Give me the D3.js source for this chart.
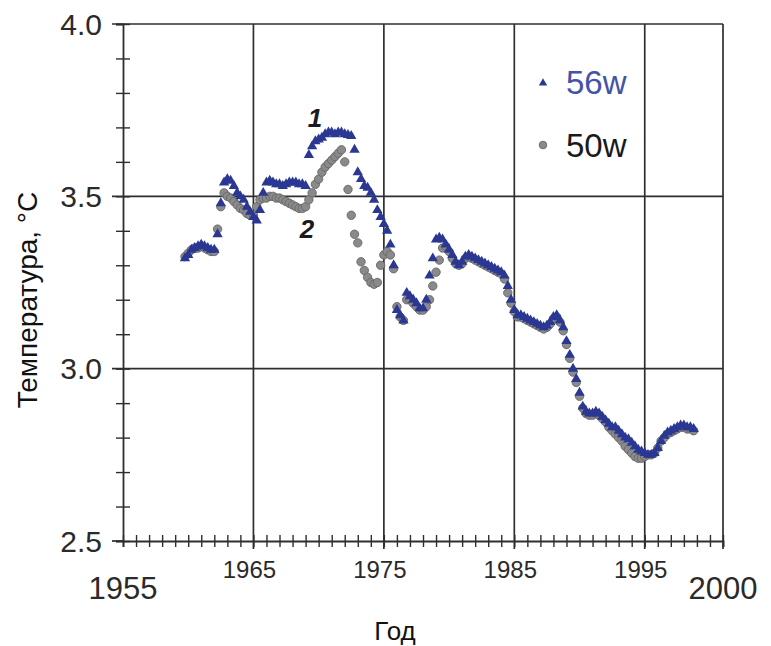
<!DOCTYPE html>
<html>
<head>
<meta charset="utf-8">
<script src="https://cdn.jsdelivr.net/npm/d3@7"></script>
<style>
  body { margin: 0; background: #fff; }
  text { font-family: "Liberation Sans", Arial, sans-serif; }
</style>
</head>
<body>
<svg id="chart" width="771" height="646"></svg>
<script>
// quarterly samples, first one at 1959.75
const startYear = 1959.75;

const t56 = [
  3.32,
  3.33, 3.345, 3.35, 3.355,
  3.36, 3.355, 3.35, 3.345,
  3.345, 3.39, 3.48, 3.54,
  3.55, 3.545, 3.53, 3.51,
  3.50, 3.49, 3.47, 3.455,
  3.44, 3.43, 3.46, 3.51,
  3.54, 3.545, 3.54, 3.535,
  3.535, 3.53, 3.535, 3.54,
  3.54, 3.54, 3.535, 3.535,
  3.53, 3.62, 3.645, 3.66,
  3.665, 3.67, 3.68, 3.685,
  3.685, 3.68, 3.685, 3.685,
  3.68, 3.678, 3.675, 3.635,
  3.57, 3.55, 3.53, 3.525,
  3.51, 3.49, 3.46, 3.44,
  3.42, 3.40, 3.36, 3.30,
  3.17, 3.155, 3.14, 3.22,
  3.21, 3.20, 3.19, 3.175,
  3.175, 3.20, 3.27, 3.32,
  3.375, 3.38, 3.375, 3.36,
  3.345, 3.33, 3.31, 3.30,
  3.31, 3.325, 3.33, 3.325,
  3.32, 3.315, 3.31, 3.305,
  3.30, 3.295, 3.29, 3.285,
  3.28, 3.27, 3.24, 3.20,
  3.17, 3.155, 3.155, 3.15,
  3.145, 3.14, 3.135, 3.13,
  3.125, 3.12, 3.125, 3.135,
  3.15, 3.155, 3.14, 3.12,
  3.08, 3.04, 3.00, 2.97,
  2.93, 2.89, 2.875, 2.87,
  2.87, 2.875, 2.87, 2.86,
  2.85, 2.84, 2.83, 2.83,
  2.82, 2.81, 2.80, 2.795,
  2.785, 2.775, 2.765, 2.76,
  2.755, 2.75, 2.75, 2.755,
  2.77, 2.79, 2.805, 2.815,
  2.82, 2.825, 2.83, 2.835,
  2.835, 2.83, 2.83, 2.825
];

const t50 = [
  3.325,
  3.335, 3.345, 3.35, 3.35,
  3.355, 3.35, 3.345, 3.34,
  3.34, 3.405, 3.47, 3.51,
  3.50, 3.495, 3.485, 3.475,
  3.465, 3.46, 3.45, 3.445,
  3.445, 3.47, 3.49, 3.495,
  3.495, 3.50, 3.50, 3.495,
  3.495, 3.49, 3.485, 3.48,
  3.475, 3.47, 3.465, 3.465,
  3.47, 3.49, 3.51, 3.535,
  3.55, 3.57, 3.585, 3.595,
  3.605, 3.615, 3.625, 3.635,
  3.60, 3.52, 3.445, 3.39,
  3.365, 3.31, 3.285, 3.265,
  3.25, 3.245, 3.25, 3.30,
  3.33, 3.34, 3.33, 3.29,
  3.18, 3.15, 3.14, 3.20,
  3.20, 3.19, 3.18, 3.17,
  3.17, 3.18, 3.20, 3.24,
  3.28, 3.315, 3.35, 3.355,
  3.34, 3.32, 3.305, 3.30,
  3.305, 3.32, 3.325, 3.32,
  3.315, 3.31, 3.305, 3.30,
  3.295, 3.29, 3.285, 3.28,
  3.275, 3.26, 3.22, 3.19,
  3.165, 3.15, 3.15, 3.145,
  3.14, 3.135, 3.13, 3.125,
  3.12, 3.115, 3.12, 3.13,
  3.145, 3.15, 3.135, 3.11,
  3.07, 3.03, 2.99, 2.96,
  2.92, 2.885, 2.87, 2.865,
  2.865, 2.87, 2.865, 2.855,
  2.845, 2.83, 2.82, 2.81,
  2.80, 2.79, 2.775, 2.765,
  2.755, 2.745, 2.74, 2.74,
  2.745, 2.75, 2.75, 2.755,
  2.77, 2.79, 2.80, 2.81,
  2.815, 2.82, 2.825, 2.83,
  2.83, 2.825, 2.825, 2.82
];

const yMajor = [2.5, 3.0, 3.5, 4.0];
const yMinor = d3.range(25, 41).map(d => d / 10);
const xGrid = [1965, 1975, 1985, 1995];
const xMinor = d3.range(1955, 2002);
const xEndLabels = [["1955", 1955], ["2000", 2001]];
const seriesNames = ["56w", "50w"];

const svg = d3.select("#chart");

const x = d3.scaleLinear().domain([1955, 2001]).range([123, 723]);
const y = d3.scaleLinear().domain([2.5, 4.0]).range([541, 24]);

const toPoints = arr => arr.map((v, i) => ({ year: startYear + i / 4, t: v }));
const pts56 = toPoints(t56);
const pts50 = toPoints(t50);

// grid
const grid = svg.append("g").attr("stroke", "#2e2e2e").attr("stroke-width", 1.7);
grid.selectAll("line.h")
  .data(yMajor.slice(1))
  .join("line")
  .attr("x1", x.range()[0] - 11).attr("x2", x.range()[1])
  .attr("y1", d => y(d)).attr("y2", d => y(d));
grid.selectAll("line.v")
  .data(xGrid.concat([2001]))
  .join("line")
  .attr("x1", d => x(d)).attr("x2", d => x(d))
  .attr("y1", y.range()[1]).attr("y2", y.range()[0] + 8);

// minor ticks crossing the axes
svg.append("g").attr("transform", `translate(${x.range()[0]},0)`)
  .call(d3.axisLeft(y).tickValues(yMinor).tickSize(7).tickFormat(""));
svg.append("g").attr("transform", `translate(${x.range()[0]},0)`)
  .call(d3.axisRight(y).tickValues(yMinor).tickSize(7).tickFormat(""))
  .select(".domain").remove();
svg.append("line")
  .attr("x1", x.range()[0] - 11).attr("x2", x.range()[0])
  .attr("y1", y(2.5)).attr("y2", y(2.5))
  .attr("stroke", "#2e2e2e").attr("stroke-width", 1.7);

svg.append("g").attr("transform", `translate(0,${y.range()[0]})`)
  .call(d3.axisBottom(x).tickValues(xMinor).tickSize(6).tickFormat(""));
svg.append("g").attr("transform", `translate(0,${y.range()[0]})`)
  .call(d3.axisTop(x).tickValues(xMinor).tickSize(6).tickFormat(""))
  .select(".domain").remove();

svg.selectAll(".domain").attr("stroke", "#2e2e2e").attr("stroke-width", 1.8);
svg.selectAll(".tick line").attr("stroke", "#2e2e2e").attr("stroke-width", 1.4);

// tick labels
svg.append("g").selectAll("text")
  .data(yMajor)
  .join("text")
  .attr("x", 102)
  .attr("y", d => y(d))
  .attr("dy", "0.36em")
  .attr("text-anchor", "end")
  .attr("font-size", 30)
  .attr("fill", "#2a2a2a")
  .text(d => d.toFixed(1));

svg.append("g").selectAll("text")
  .data(xGrid)
  .join("text")
  .attr("x", d => x(d) - 4)
  .attr("y", 578)
  .attr("text-anchor", "middle")
  .attr("font-size", 24)
  .attr("fill", "#2a2a2a")
  .text(d => d);

svg.append("g").selectAll("text")
  .data(xEndLabels)
  .join("text")
  .attr("x", d => x(d[1]))
  .attr("y", 599)
  .attr("text-anchor", "middle")
  .attr("font-size", 31)
  .attr("fill", "#2a2a2a")
  .text(d => d[0]);

svg.append("text")
  .attr("x", 395).attr("y", 640)
  .attr("text-anchor", "middle")
  .attr("font-size", 26)
  .attr("fill", "#111")
  .text("Год");

svg.append("text")
  .attr("transform", "translate(37,300) rotate(-90)")
  .attr("text-anchor", "middle")
  .attr("font-size", 28)
  .attr("fill", "#111")
  .text("Температура, °C");

// series
const blue = "#2a3793";
const tri = d3.symbol().type(d3.symbolTriangle).size(46);

svg.append("g").selectAll("circle")
  .data(pts50)
  .join("circle")
  .attr("cx", d => x(d.year))
  .attr("cy", d => y(d.t))
  .attr("r", 4.2)
  .attr("fill", "#8a8a8a")
  .attr("stroke", "#666")
  .attr("stroke-width", 0.9);

svg.append("g").selectAll("path")
  .data(pts56)
  .join("path")
  .attr("transform", d => `translate(${x(d.year)},${y(d.t)})`)
  .attr("d", tri)
  .attr("fill", blue);

// annotations
svg.append("text").attr("x", 315).attr("y", 127)
  .attr("text-anchor", "middle").attr("font-size", 26)
  .attr("font-weight", "bold").attr("font-style", "italic")
  .attr("fill", "#1a1a1a").text("1");
svg.append("text").attr("x", 307).attr("y", 238)
  .attr("text-anchor", "middle").attr("font-size", 26)
  .attr("font-weight", "bold").attr("font-style", "italic")
  .attr("fill", "#1a1a1a").text("2");

// legend
const legend = svg.append("g");
legend.append("path")
  .attr("transform", "translate(543,83)")
  .attr("d", d3.symbol().type(d3.symbolTriangle).size(30))
  .attr("fill", blue);
legend.append("text")
  .attr("x", 566).attr("y", 94)
  .attr("font-size", 33).attr("fill", "#4453a6")
  .text(seriesNames[0]);
legend.append("circle")
  .attr("cx", 543).attr("cy", 145).attr("r", 3.8)
  .attr("fill", "#8a8a8a").attr("stroke", "#666").attr("stroke-width", 0.9);
legend.append("text")
  .attr("x", 566).attr("y", 157)
  .attr("font-size", 33).attr("fill", "#1a1a1a")
  .text(seriesNames[1]);
</script>
</body>
</html>
